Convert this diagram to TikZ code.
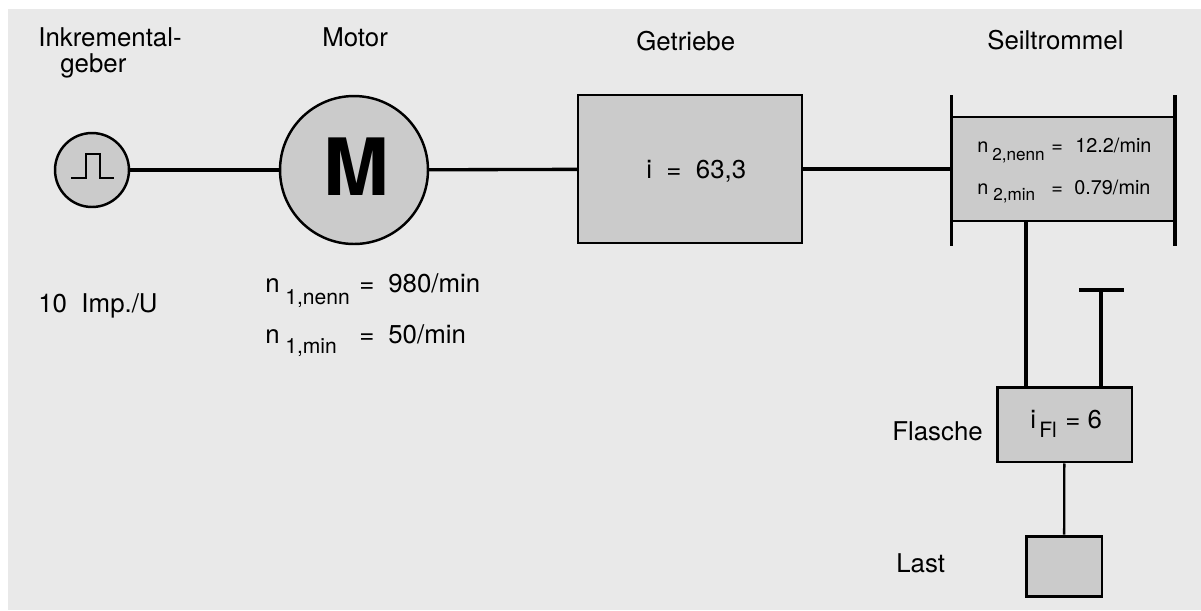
\documentclass[tikz,border=0pt]{standalone}
\usepackage{fontspec}
\setmainfont{TeX Gyre Heros}
\definecolor{sheetColor}{RGB}{233,233,233}
\definecolor{partColor}{RGB}{203,203,203}
\tikzstyle{plan} = [x = .02cm, y = -.02cm]
\tikzstyle{partBox} = [draw=black, fill=partColor, line width=1.2pt, inner sep=0pt, rectangle]
\tikzstyle{partCircle} = [draw=black, fill=partColor, line width=1.4pt, inner sep=0pt, circle]
\tikzstyle{shaftLine} = [color=black, line width=1.9pt]
\tikzstyle{thinLine} = [color=black, line width=1.3pt]
\tikzstyle{labelText} = [anchor=base west, inner sep=0pt, font=\fontsize{14.7}{17}\selectfont]
\tikzstyle{subText} = [anchor=base west, inner sep=0pt, font=\fontsize{12}{14}\selectfont]
\tikzstyle{drumText} = [anchor=base west, inner sep=0pt, font=\fontsize{11.3}{13}\selectfont]
\tikzstyle{drumSubText} = [anchor=base west, inner sep=0pt, font=\fontsize{9.75}{12}\selectfont]
\newcommand{\labelAt}[4]{\node [labelText] (#1) at (#2,#3) {#4};}
\newcommand{\subAt}[4]{\node [subText] (#1) at (#2,#3) {#4};}
\newcommand{\drumAt}[4]{\node [drumText] (#1) at (#2,#3) {#4};}
\newcommand{\drumSubAt}[4]{\node [drumSubText] (#1) at (#2,#3) {#4};}
\begin{document}
\begin{tikzpicture}[plan]
  \useasboundingbox (0,0) rectangle (1201,610);
  \fill [sheetColor] (8,9) rectangle (1201,610);

  % parts
  \node [partCircle, minimum size=1.48cm] (encoder) at (92,170) {};
  \node [partCircle, minimum size=2.96cm] (motor) at (354,170) {};
  \node [inner sep=0pt, font=\bfseries\fontsize{45}{50}\selectfont] (motorLetter) at (356.5,167) {M};
  \node [partBox, minimum width=4.48cm, minimum height=2.96cm] (gearbox) at (690,169) {};
  \node [partBox, minimum width=4.48cm, minimum height=2.08cm] (drum) at (1063,169) {};
  \node [partBox, line width=1.7pt, minimum width=2.7cm, minimum height=1.5cm] (pulley) at (1064.5,424.5) {};
  \node [partBox, line width=1.7pt, minimum width=1.52cm, minimum height=1.2cm] (load) at (1064,566) {};

  % pulse symbol
  \draw [thinLine] (71,178) -- (86,178) -- (86,154) -- (100,154) -- (100,178) -- (114,178);

  % shafts
  \draw [shaftLine] (encoder) -- (motor);
  \draw [shaftLine] (motor) -- (gearbox);
  \draw [shaftLine] (gearbox) -- (drum);

  % drum flanges
  \coordinate (flangeLeftTop) at (951.5,95);
  \coordinate (flangeLeftBottom) at (951.5,246);
  \coordinate (flangeRightTop) at (1175,95);
  \coordinate (flangeRightBottom) at (1175,246);
  \draw [shaftLine] (flangeLeftTop) -- (flangeLeftBottom);
  \draw [shaftLine] (flangeRightTop) -- (flangeRightBottom);

  % ropes
  \coordinate (ropeTop) at (1026,221);
  \coordinate (fixPoint) at (1101,290);
  \coordinate (fixLeft) at (1079,290);
  \coordinate (fixRight) at (1124,290);
  \draw [shaftLine] (ropeTop) -- (ropeTop |- pulley.north);
  \draw [shaftLine] (fixPoint) -- (fixPoint |- pulley.north);
  \draw [shaftLine] (fixLeft) -- (fixRight);
  \draw [thinLine] (pulley) -- (load);

  % titles
  \labelAt{titleEncoderA}{38}{46}{Inkremental-}
  \labelAt{titleEncoderB}{60}{72}{geber}
  \labelAt{titleMotor}{322}{46}{Motor}
  \labelAt{titleGearbox}{636}{50}{Getriebe}
  \labelAt{titleDrum}{987}{49}{Seiltrommel}
  \labelAt{titlePulley}{892}{440}{Flasche}
  \labelAt{titleLoad}{896}{572}{Last}
  \labelAt{pulses}{38}{312}{10\ \ Imp./U}

  % motor speeds
  \labelAt{motorNomN}{265}{292}{n}
  \subAt{motorNomSub}{285}{304}{1,nenn}
  \labelAt{motorNomEq}{359}{292}{=}
  \labelAt{motorNomVal}{388}{292}{980/min}
  \labelAt{motorMinN}{265}{343}{n}
  \subAt{motorMinSub}{285}{353}{1,min}
  \labelAt{motorMinEq}{359}{343}{=}
  \labelAt{motorMinVal}{388}{343}{50/min}

  % gearbox
  \labelAt{gearRatio}{646}{178}{i\ \ =\ \ 63,3}

  % drum speeds
  \drumAt{drumNomN}{977}{152}{n}
  \drumSubAt{drumNomSub}{992}{160}{2,nenn}
  \drumAt{drumNomEq}{1051}{152}{=}
  \drumAt{drumNomVal}{1075}{152}{12.2/min}
  \drumAt{drumMinN}{977}{194}{n}
  \drumSubAt{drumMinSub}{993}{200}{2,min}
  \drumAt{drumMinEq}{1051}{194}{=}
  \drumAt{drumMinVal}{1074}{194}{0.79/min}

  % pulley ratio
  \labelAt{pulleyI}{1030}{428}{i}
  \subAt{pulleySub}{1039}{437}{Fl}
  \labelAt{pulleyVal}{1065}{428}{= 6}
\end{tikzpicture}
\end{document}
